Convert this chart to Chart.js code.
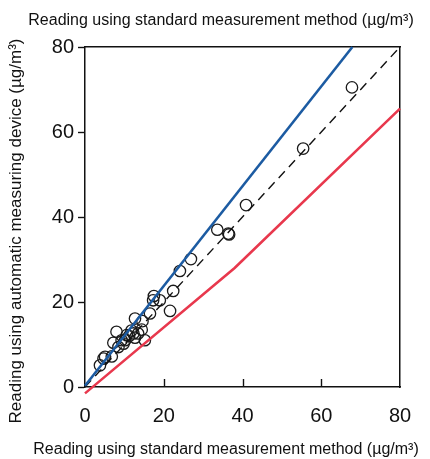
<!DOCTYPE html>
<html>
<head>
<meta charset="utf-8">
<script src="https://cdn.jsdelivr.net/npm/chart.js@4.4.1/dist/chart.umd.min.js"></script>
<style>
html,body{margin:0;padding:0;background:#fff;}
canvas{display:block;}
</style>
</head>
<body>
<canvas id="c" width="430" height="459"></canvas>
<script>
// ---- data ----
const xTicks = [0, 20, 40, 60, 80];
const yTicks = [0, 20, 40, 60, 80];
const xTitle = "Reading using standard measurement method (µg/m³)";
const yTitle = "Reading using automatic measuring device (µg/m³)";

// observed pairs (standard method, automatic device)
const obsX = [67.8, 55.4, 40.9, 33.6, 36.4, 36.6, 26.9, 24.1, 22.4, 21.6, 17.5, 17.3, 19.0, 16.5, 12.7, 14.6, 15.2, 14.4,
              8.0, 7.2, 8.5, 9.3, 10.6, 11.8, 12.7, 12.3, 13.5, 10.2, 4.7, 6.8, 3.8, 5.1, 9.8, 11.2];
const obsY = [70.5, 56.1, 42.8, 37.0, 36.1, 35.9, 30.1, 27.3, 22.6, 17.9, 21.4, 20.4, 20.4, 17.3, 16.1, 15.5, 11.0, 13.5,
              13.0, 10.4, 9.4, 11.0, 12.2, 13.3, 11.6, 12.6, 12.6, 11.0, 6.7, 7.2, 5.1, 7.1, 10.2, 12.0];

// upper limit (blue), lower limit (red), 1:1 reference (dashed)
const blueX = [0, 67.9];
const blueY = [0.3, 80];
const redX = [0, 38, 80];
const redY = [-1.5, 28, 65.5];
const refX = [0, 80];
const refY = [0, 80];

const pts = (xs, ys) => xs.map((v, i) => ({x: v, y: ys[i]}));

const FONT = "'Liberation Sans', Arial, sans-serif";

const decorations = {
  id: 'decorations',
  afterDraw(chart) {
    const {ctx, chartArea} = chart;
    const xs = chart.scales.x;
    ctx.save();
    // inward x ticks
    ctx.strokeStyle = '#111';
    ctx.lineWidth = 1.4;
    xTicks.slice(1, -1).forEach(v => {
      const px = Math.round(xs.getPixelForValue(v)) + 0.5;
      ctx.beginPath();
      ctx.moveTo(px, chartArea.bottom);
      ctx.lineTo(px, chartArea.bottom - 8);
      ctx.stroke();
    });
    // axis titles
    ctx.fillStyle = '#111';
    ctx.textAlign = 'center';
    ctx.textBaseline = 'middle';
    ctx.font = "16px " + FONT;
    ctx.fillText(xTitle, 221, 21);
    ctx.fillText(xTitle, 226, 450);
    ctx.font = "17px " + FONT;
    ctx.translate(16, 231);
    ctx.rotate(-Math.PI / 2);
    ctx.fillText(yTitle, 0, 0);
    ctx.restore();
  }
};

new Chart(document.getElementById('c'), {
  type: 'scatter',
  data: {
    datasets: [
      {
        type: 'line', data: pts(blueX, blueY), borderColor: '#1c5ba2', borderWidth: 2.6,
        pointRadius: 0, fill: false, clip: false, tension: 0
      },
      {
        type: 'line', data: pts(redX, redY), borderColor: '#e8384d', borderWidth: 2.6,
        pointRadius: 0, fill: false, clip: false, tension: 0
      },
      {
        type: 'line', data: pts(refX, refY), borderColor: '#111', borderWidth: 1.4,
        borderDash: [9, 6], pointRadius: 0, fill: false, tension: 0
      },
      {
        data: pts(obsX, obsY), pointStyle: 'circle', pointRadius: 5.7,
        borderColor: '#1a1a1a', borderWidth: 1.3, backgroundColor: 'rgba(0,0,0,0)',
        clip: false
      }
    ]
  },
  options: {
    responsive: false,
    animation: false,
    events: [],
    layout: {padding: 0},
    plugins: {legend: {display: false}, tooltip: {enabled: false}},
    scales: {
      x: {
        type: 'linear', position: 'bottom', min: 0, max: 80,
        afterBuildTicks: s => { s.ticks = xTicks.map(v => ({value: v})); },
        afterFit: s => { s.height = 72; },
        grid: {display: false},
        border: {display: true, color: '#111', width: 1.5},
        ticks: {color: '#111', font: {family: FONT, size: 20}, padding: 9, maxRotation: 0}
      },
      x2: {
        type: 'linear', position: 'top', min: 0, max: 80,
        afterFit: s => { s.height = 47; },
        grid: {display: false},
        border: {display: true, color: '#111', width: 1.5},
        ticks: {display: false}
      },
      y: {
        type: 'linear', position: 'left', min: 0, max: 80,
        afterBuildTicks: s => { s.ticks = yTicks.map(v => ({value: v})); },
        afterFit: s => { s.width = 85; },
        grid: {display: true, drawOnChartArea: false, drawTicks: true, tickLength: 7, tickColor: '#111', tickWidth: 1.4},
        border: {display: true, color: '#111', width: 1.5},
        ticks: {color: '#111', font: {family: FONT, size: 20}, padding: 4}
      },
      y2: {
        type: 'linear', position: 'right', min: 0, max: 80,
        afterFit: s => { s.width = 30; },
        grid: {display: false},
        border: {display: true, color: '#111', width: 1.5},
        ticks: {display: false}
      }
    }
  },
  plugins: [decorations]
});
</script>
</body>
</html>
